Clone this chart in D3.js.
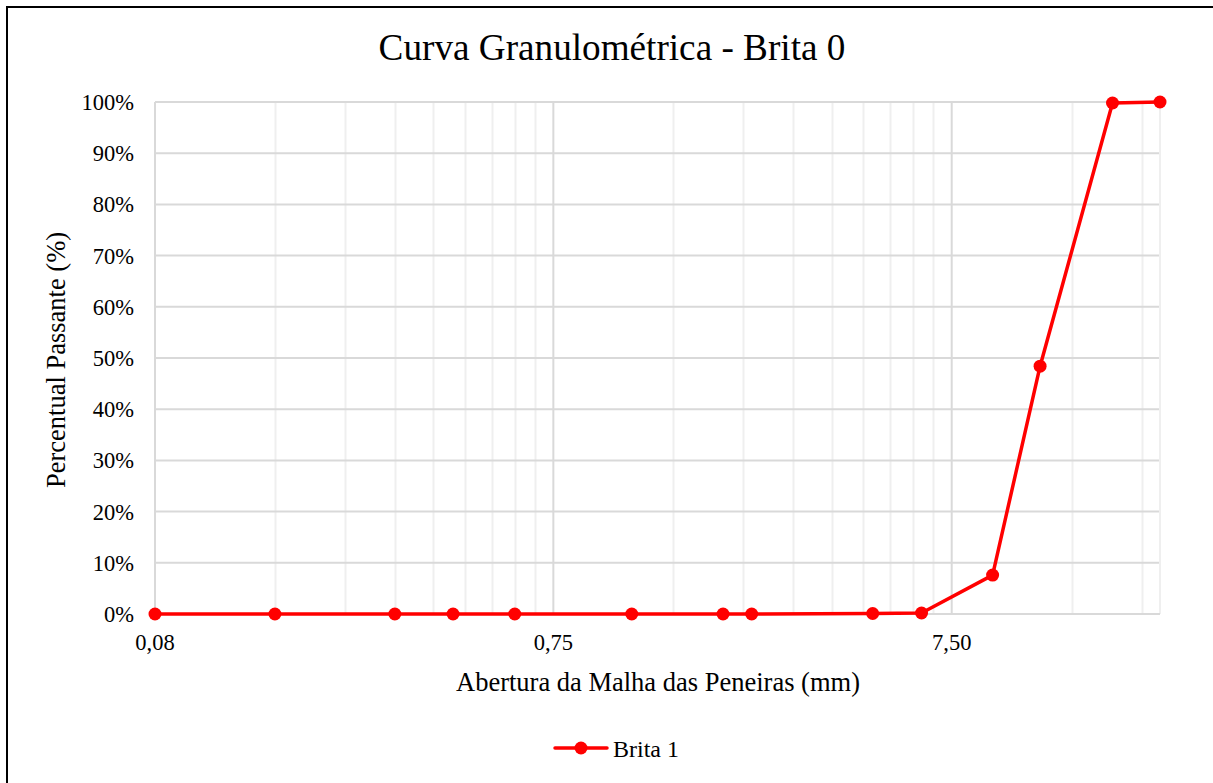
<!DOCTYPE html>
<html>
<head>
<meta charset="utf-8">
<script src="https://cdn.jsdelivr.net/npm/d3@7"></script>
<style>
  body { margin: 0; background: #fff; }
  svg { display: block; }
  text { font-family: "Liberation Serif", "Times New Roman", serif; fill: #000; }
</style>
</head>
<body>
<div id="chart"></div>
<script>
// peneiras (mm) e percentual passante
const aberturas = [0.075, 0.15, 0.3, 0.42, 0.6, 1.18, 2, 2.36, 4.75, 6.3, 9.5, 12.5, 19, 25];
const passante = [0, 0, 0, 0, 0, 0, 0, 0, 0.1, 0.2, 7.6, 48.4, 99.8, 100];
const xTicks = [0.075, 0.75, 7.5];
const xTickLabels = ['0,08', '0,75', '7,50'];
const yTicks = [0, 10, 20, 30, 40, 50, 60, 70, 80, 90, 100];

const data = aberturas.map((a, i) => ({ a, p: passante[i] }));

const width = 1213;
const height = 783;
const svg = d3.select('#chart')
    .append('svg')
    .attr('width', width)
    .attr('height', height);

// moldura
svg.append('path')
    .attr('d', `M7,${height + 5} L7,7 L${width + 5},7`)
    .attr('fill', 'none')
    .attr('stroke', '#000')
    .attr('stroke-width', 2);

const area = { left: 155, right: 1160, top: 102, bottom: 614 };

const x = d3.scaleLog()
    .domain([0.075, 25])
    .range([area.left, area.right]);

const y = d3.scaleLinear()
    .domain([0, 100])
    .range([area.bottom, area.top]);

// minor vertical gridlines (log base 10 from 0.075)
const minor = [];
xTicks.forEach(b => {
    for (let k = 2; k <= 9; k++) {
        const v = b * k;
        if (v < 25) minor.push(v);
    }
});

svg.append('g')
    .selectAll('line')
    .data(minor)
    .join('line')
    .attr('x1', d => Math.round(x(d)) + 0.5)
    .attr('x2', d => Math.round(x(d)) + 0.5)
    .attr('y1', area.top)
    .attr('y2', area.bottom)
    .attr('stroke', '#efefef')
    .attr('stroke-width', 2);

// horizontal gridlines
svg.append('g')
    .selectAll('line')
    .data(yTicks.slice(1))
    .join('line')
    .attr('x1', area.left)
    .attr('x2', area.right)
    .attr('y1', d => y(d))
    .attr('y2', d => y(d))
    .attr('stroke', '#d9d9d9')
    .attr('stroke-width', 2);

// major vertical gridlines
svg.append('g')
    .selectAll('line')
    .data(xTicks.concat([25]))
    .join('line')
    .attr('x1', d => x(d))
    .attr('x2', d => x(d))
    .attr('y1', area.top)
    .attr('y2', area.bottom)
    .attr('stroke', d => d === 25 ? '#efefef' : '#d9d9d9')
    .attr('stroke-width', 2);

// eixo x
svg.append('line')
    .attr('x1', area.left)
    .attr('x2', area.right)
    .attr('y1', area.bottom)
    .attr('y2', area.bottom)
    .attr('stroke', '#d9d9d9')
    .attr('stroke-width', 2);

svg.append('g')
    .selectAll('text')
    .data(xTicks)
    .join('text')
    .attr('x', d => x(d))
    .attr('y', 650)
    .attr('text-anchor', 'middle')
    .style('font-size', '22.5px')
    .text((d, i) => xTickLabels[i]);

svg.append('g')
    .selectAll('text')
    .data(yTicks)
    .join('text')
    .attr('x', 134)
    .attr('y', d => y(d) + 8)
    .attr('text-anchor', 'end')
    .style('font-size', '22.5px')
    .text(d => d + '%');

// linha
const line = d3.line()
    .x(d => x(d.a))
    .y(d => y(d.p));

svg.append('path')
    .datum(data)
    .attr('d', line)
    .attr('fill', 'none')
    .attr('stroke', '#ff0000')
    .attr('stroke-width', 3.5)
    .attr('stroke-linejoin', 'round');

svg.append('g')
    .selectAll('circle')
    .data(data)
    .join('circle')
    .attr('cx', d => x(d.a))
    .attr('cy', d => y(d.p))
    .attr('r', 6.5)
    .attr('fill', '#ff0000');

// títulos
svg.append('text')
    .attr('x', 612)
    .attr('y', 60)
    .attr('text-anchor', 'middle')
    .style('font-size', '37.2px')
    .text('Curva Granulométrica - Brita 0');

svg.append('text')
    .attr('x', 658)
    .attr('y', 691)
    .attr('text-anchor', 'middle')
    .style('font-size', '26.5px')
    .text('Abertura da Malha das Peneiras (mm)');

svg.append('text')
    .attr('transform', 'rotate(-90)')
    .attr('x', -360)
    .attr('y', 65)
    .attr('text-anchor', 'middle')
    .style('font-size', '26.5px')
    .text('Percentual Passante (%)');

// legenda
const lg = svg.append('g').attr('transform', 'translate(555,748)');
lg.append('line')
    .attr('x1', 0).attr('x2', 52)
    .attr('stroke', '#ff0000')
    .attr('stroke-width', 3.5)
    .attr('stroke-linecap', 'round');
lg.append('circle')
    .attr('cx', 26)
    .attr('r', 6.5)
    .attr('fill', '#ff0000');
lg.append('text')
    .attr('x', 58)
    .attr('y', 9)
    .style('font-size', '24px')
    .text('Brita 1');
</script>
</body>
</html>
